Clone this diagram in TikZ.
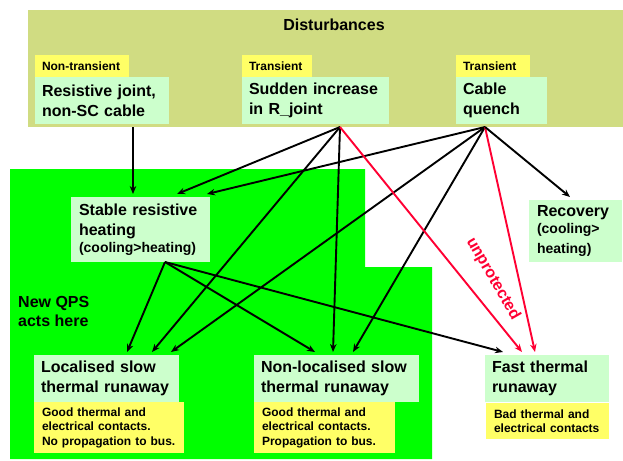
\documentclass[tikz,border=0pt]{standalone}
\usepackage{fontspec}
\setmainfont{Liberation Sans}
\usepackage{tikz}
\usetikzlibrary{arrows.meta, calc}
\definecolor{distOlive}{HTML}{D0DC82}
\definecolor{qpsGreen}{HTML}{00FF00}
\definecolor{paleGreen}{HTML}{CCFFCC}
\definecolor{tagYellow}{HTML}{FFFF66}
\definecolor{unprotRed}{HTML}{FF0033}

\begin{document}
\begin{tikzpicture}[
  x=1pt, y=-1pt,
  card/.style={fill=paleGreen, anchor=north west, inner xsep=7pt, inner ysep=0pt, outer sep=0pt, align=left, font=\bfseries\fontsize{16}{20}\selectfont},
  tag/.style={fill=tagYellow, anchor=north west, inner xsep=7pt, inner ysep=0pt, outer sep=0pt, align=left, minimum height=22pt, font=\bfseries\fontsize{12}{14}\selectfont},
  note/.style={fill=tagYellow, anchor=north west, inner xsep=8pt, inner ysep=0pt, outer sep=0pt, align=left, font=\bfseries\fontsize{12}{14.5}\selectfont},
  link/.style={-{Stealth[length=8pt,width=6.5pt]}, line width=1.9pt},
  redlink/.style={link, unprotRed}
]
  \useasboundingbox (0,0) rectangle (623,460);

  % background areas
  \fill[distOlive] (28,10) rectangle (623,127);
  \fill[qpsGreen] (10,169) -- (365,169) -- (365,267) -- (432,267) -- (432,459) -- (10,459) -- cycle;

  \node[font=\bfseries\fontsize{16}{20}\selectfont] (dist) at (334,25) {Disturbances};

  % disturbances
  \node[tag, text width=80pt] (ntTag) at (35,55) {Non-transient};
  \node[tag, text width=56pt] (trTagA) at (242,55) {Transient};
  \node[tag, text width=60pt] (trTagB) at (456,55) {Transient};

  \node[card, text width=120pt, minimum height=47pt] (resist) at (35,77) {Resistive joint,\\non-SC cable};
  \node[card, text width=133pt, minimum height=47pt] (sudden) at (242,77) {Sudden increase\\in R\_joint};
  \node[card, text width=77pt, minimum height=47pt] (quench) at (456,77) {Cable\\quench};

  % consequences
  \node[card, inner xsep=8pt, text width=123pt, minimum height=65pt] (stable) at (71,197)
    {Stable resistive\\heating\\[-3pt]{\fontsize{14}{17}\selectfont(cooling>heating)}};
  \node[card, inner xsep=8pt, text width=77pt, minimum height=62pt] (recov) at (529,200)
    {Recovery\\\fontsize{14}{17}\selectfont(cooling>\\heating)};

  \node[card, text width=131pt, minimum height=47pt] (local) at (34,355) {Localised slow\\thermal runaway};
  \node[note, text width=134pt, minimum height=51pt] (localNote) at (34,402)
    {Good thermal and\\electrical contacts.\\No propagation to bus.};
  \node[card, text width=151pt, minimum height=47pt] (nonlocal) at (254,355) {Non-localised slow\\thermal runaway};
  \node[note, text width=125pt, minimum height=51pt] (nonlocalNote) at (254,402)
    {Good thermal and\\electrical contacts.\\Propagation to bus.};
  \node[card, text width=110pt, minimum height=47pt] (fast) at (485,355) {Fast thermal\\runaway};
  \node[note, text width=107pt, minimum height=36pt] (fastNote) at (486,403)
    {Bad thermal and\\electrical contacts};

  \node[anchor=north west, align=left, inner sep=0pt, font=\bfseries\fontsize{16}{19}\selectfont] (qps) at (18,296) {New QPS\\acts here};
  \node[rotate=-60, text=unprotRed, font=\bfseries\fontsize{16}{20}\selectfont] (unprot) at (493,279) {unprotected};

  % line start points
  \coordinate (resistOut) at ([xshift=98pt,yshift=-3pt]resist.south west);
  \coordinate (suddenOut) at ([xshift=98pt,yshift=-3pt]sudden.south west);
  \coordinate (quenchOut) at ([xshift=29pt,yshift=-3pt]quench.south west);
  \coordinate (stableOut) at ([xshift=94pt]stable.south west);

  \draw[link] (resistOut) -- ([xshift=62pt,yshift=3pt]stable.north west);
  \draw[link] (suddenOut) -- ([xshift=106pt,yshift=3pt]stable.north west);
  \draw[link] (quenchOut) -- ([xshift=136pt,yshift=3pt]stable.north west);
  \draw[link] (stableOut) -- ([xshift=93pt,yshift=3pt]local.north west);
  \draw[link] (suddenOut) -- ([xshift=118pt,yshift=3pt]local.north west);
  \draw[link] (quenchOut) -- ([xshift=137pt,yshift=3pt]local.north west);
  \draw[link] (stableOut) -- ([xshift=61pt,yshift=3pt]nonlocal.north west);
  \draw[link] (suddenOut) -- ([xshift=79pt,yshift=3pt]nonlocal.north west);
  \draw[link] (quenchOut) -- ([xshift=99pt,yshift=3pt]nonlocal.north west);
  \draw[link] (stableOut) -- ([xshift=18pt,yshift=3pt]fast.north west);
  \draw[redlink] (suddenOut) -- ([xshift=37pt,yshift=3pt]fast.north west);
  \draw[redlink] (quenchOut) -- ([xshift=50pt,yshift=3pt]fast.north west);
  \draw[link] (quenchOut) -- ([xshift=41pt,yshift=3pt]recov.north west);
\end{tikzpicture}
\end{document}
